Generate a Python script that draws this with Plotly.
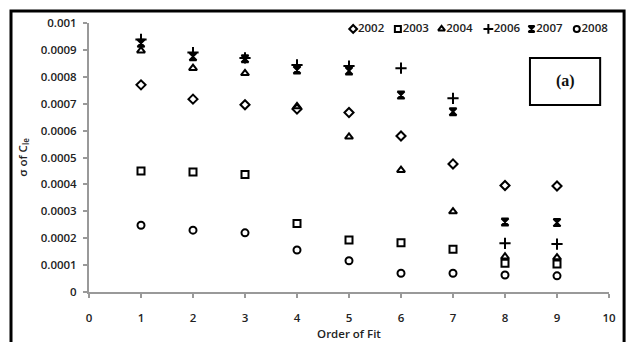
import plotly.graph_objects as go

order = [1, 2, 3, 4, 5, 6, 7, 8, 9]
y2002 = [0.00077, 0.000717, 0.000696, 0.00068, 0.000667, 0.00058, 0.000476, 0.000396, 0.000394]
y2003 = [0.00045, 0.000446, 0.000437, 0.000255, 0.000193, 0.000183, 0.000159, 0.000107, 0.000104]
y2004 = [0.000897, 0.000832, 0.000813, 0.00069, 0.000577, 0.000453, 0.000299, 0.000131, 0.000128]
y2006 = [0.000939, 0.00089, 0.00087, 0.000844, 0.00084, 0.000832, 0.00072, 0.000181, 0.000178]
y2007 = [0.000925, 0.000875, 0.000867, 0.000825, 0.000822, 0.000732, 0.00067, 0.00026, 0.000258]
y2008 = [0.000248, 0.00023, 0.00022, 0.000156, 0.000116, 0.0000695, 0.0000695, 0.000063, 0.00006]

series_names = ["2002", "2003", "2004", "2006", "2007", "2008"]
series_vals = [y2002, y2003, y2004, y2006, y2007, y2008]
symbols = ["diamond-open", "square-open", "triangle-up-open", "cross-thin-open", "hourglass", "circle-open"]
sizes = [7, 7, 7, 8, 7, 7]

x_ticks = list(range(0, 11))
y_ticks = [0, 0.0001, 0.0002, 0.0003, 0.0004, 0.0005, 0.0006, 0.0007, 0.0008, 0.0009, 0.001]
y_tick_labels = ["0", "0.0001", "0.0002", "0.0003", "0.0004", "0.0005", "0.0006", "0.0007", "0.0008", "0.0009", "0.001"]

# legend layout positions (paper coordinates)
legend_x = [0.508, 0.594, 0.678, 0.768, 0.851, 0.938]
legend_y = 0.978

TXT = dict(family="Open Sans", size=11.5, color="#222", weight=600)

fig = go.Figure()
for name, vals, sym, sz in zip(series_names, series_vals, symbols, sizes):
    fig.add_trace(go.Scatter(
        x=order, y=vals, mode="markers", name=name, showlegend=False,
        marker=dict(symbol=sym, size=sz, color="black",
                    line=dict(color="black", width=2)),
    ))

# custom compact legend
for name, sym, sz, lx in zip(series_names, symbols, sizes, legend_x):
    fig.add_trace(go.Scatter(
        x=[lx], y=[legend_y], xaxis="x2", yaxis="y2", mode="markers+text",
        text=[name], textposition="middle right", showlegend=False,
        textfont=TXT,
        marker=dict(symbol=sym, size=sz - 1, color="black",
                    line=dict(color="black", width=2)),
        hoverinfo="skip",
    ))

fig.update_layout(
    width=627, height=342,
    margin=dict(l=89, r=18, t=23, b=50),
    paper_bgcolor="white", plot_bgcolor="white",
    font=TXT,
    xaxis=dict(
        range=[0, 10], tickvals=x_ticks, showgrid=False, zeroline=False,
        showline=True, linecolor="#999", linewidth=2, automargin=False,
        ticks="outside", ticklen=4, tickcolor="#999", tickwidth=2,
        ticklabelstandoff=10, tickfont=TXT,
        title=dict(text="Order of Fit", standoff=6, font=TXT),
    ),
    yaxis=dict(
        range=[0, 0.001], tickvals=y_ticks, ticktext=y_tick_labels,
        showgrid=False, zeroline=False, automargin=False,
        showline=True, linecolor="#999", linewidth=2,
        ticks="outside", ticklen=4, tickcolor="#999", tickwidth=2,
        ticklabelstandoff=4, tickfont=TXT,
        title=dict(text="σ of C<sub>le</sub>", standoff=11, font=TXT),
    ),
    xaxis2=dict(range=[0, 1], overlaying="x", visible=False),
    yaxis2=dict(range=[0, 1], overlaying="y", visible=False),
    shapes=[
        dict(type="rect", xref="paper", yref="paper",
             x0=-0.15, x1=1.029, y0=-0.4, y1=1.045,
             line=dict(color="black", width=3)),
        dict(type="rect", xref="x", yref="y",
             x0=8.48, x1=9.83, y0=0.000695, y1=0.00087,
             line=dict(color="black", width=2)),
    ],
    annotations=[
        dict(x=9.155, y=0.000783, xref="x", yref="y", text="<b>(a)</b>",
             showarrow=False,
             font=dict(family="Liberation Serif, DejaVu Serif, serif", size=16, color="#111")),
    ],
)

fig.write_html("out.html")
